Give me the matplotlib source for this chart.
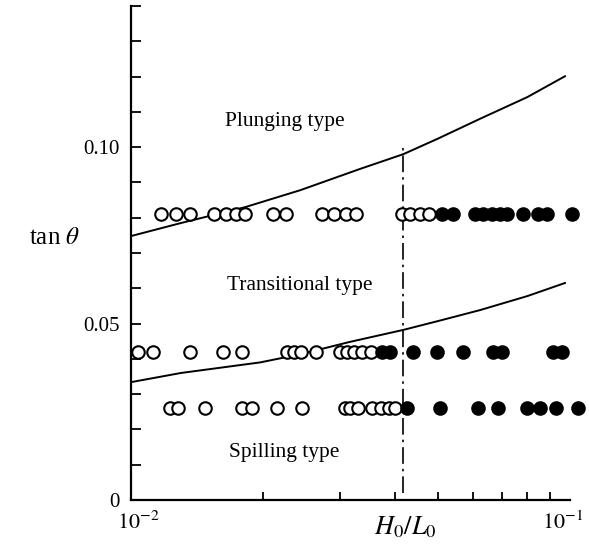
import matplotlib
matplotlib.use("Agg")
import matplotlib.pyplot as plt
from matplotlib.ticker import FixedLocator, NullFormatter, FixedFormatter, LogLocator
from matplotlib.transforms import ScaledTranslation

plt.rcParams['font.family'] = ['Liberation Serif', 'DejaVu Serif']
plt.rcParams['mathtext.fontset'] = 'stix'

# ---- data ----
row_top = 0.081
row_mid = 0.042
row_bot = 0.026

top_open = [0.0117, 0.01266, 0.01363, 0.01546, 0.01646, 0.01735, 0.01818, 0.02106,
            0.02255, 0.02724, 0.0290, 0.03088, 0.03254, 0.04143, 0.0432, 0.0455, 0.0477]
top_filled = [0.0511, 0.0541, 0.0608, 0.0634, 0.0664, 0.0693, 0.0719, 0.0781,
              0.0846, 0.0886, 0.1011]

mid_open = [0.01037, 0.01122, 0.01363, 0.0162, 0.0179, 0.02267, 0.02351, 0.02439,
            0.02639, 0.02993, 0.03105, 0.03221, 0.03359, 0.03522]
mid_filled = [0.0373, 0.0389, 0.0439, 0.0498, 0.0571, 0.0668, 0.0700, 0.0915, 0.0959]

bot_open = [0.01227, 0.0128, 0.01474, 0.0179, 0.01887, 0.0215, 0.02452, 0.03072,
            0.03154, 0.03289, 0.0354, 0.0371, 0.0387, 0.0399]
bot_filled = [0.0425, 0.0506, 0.0617, 0.0686, 0.0798, 0.0855, 0.0929, 0.1043]

upper_x = [0.0100, 0.0130, 0.0182, 0.0243, 0.0332, 0.0417, 0.0500, 0.0623, 0.0800, 0.0974]
upper_y = [0.0748, 0.0785, 0.0830, 0.0878, 0.0938, 0.0980, 0.1024, 0.1080, 0.1142, 0.1201]

lower_x = [0.0100, 0.0130, 0.0197, 0.0243, 0.0315, 0.0417, 0.0500, 0.0623, 0.0800, 0.0974]
lower_y = [0.0334, 0.0360, 0.0390, 0.0413, 0.0448, 0.0482, 0.0507, 0.0538, 0.0578, 0.0615]

vline_x = 0.0417
vline_y = [0.002, 0.100]

region_labels = ["Plunging type", "Transitional type", "Spilling type"]
region_x = [0.0224, 0.0242, 0.0223]
region_y = [0.1074, 0.0609, 0.0136]

# ---- figure ----
fig = plt.figure(figsize=(5.89, 5.46), dpi=100)
ax = fig.add_axes([131/589, 1-500/546, (570-131)/589, (500-6)/546])
ax.set_xscale('log')
ax.set_xlim(0.01, 0.1)
ax.set_ylim(0, 0.14)

ms = 9
mew = 1.5
for xs, yv in [(top_open, row_top), (mid_open, row_mid), (bot_open, row_bot)]:
    ax.plot(xs, [yv]*len(xs), 'o', ms=ms, mfc='white', mec='black', mew=mew,
            clip_on=False, zorder=3)
for xs, yv in [(top_filled, row_top), (mid_filled, row_mid), (bot_filled, row_bot)]:
    ax.plot(xs, [yv]*len(xs), 'o', ms=ms, mfc='black', mec='black', mew=mew,
            clip_on=False, zorder=3)

ax.plot(upper_x, upper_y, '-', color='black', lw=1.4, zorder=2)
ax.plot(lower_x, lower_y, '-', color='black', lw=1.4, zorder=2)
ax.plot([vline_x, vline_x], vline_y, color='black', lw=1.2,
        linestyle=(0, (10, 3, 1.5, 3)), zorder=2)

for t, x, y in zip(region_labels, region_x, region_y):
    ax.text(x, y, t, ha='center', va='center', fontsize=15.5)

for s in ['top', 'right']:
    ax.spines[s].set_visible(False)
for s in ['left', 'bottom']:
    ax.spines[s].set_linewidth(1.6)

ax.yaxis.set_major_locator(FixedLocator([0, 0.05, 0.10]))
ax.yaxis.set_major_formatter(FixedFormatter(['0', '0.05', '0.10']))
ax.yaxis.set_minor_locator(FixedLocator([i*0.01 for i in range(15)]))
ax.tick_params(axis='y', which='both', direction='in', length=7, width=1.3,
               labelsize=15, pad=8)

ax.xaxis.set_major_locator(FixedLocator([0.01, 0.1]))
ax.xaxis.set_major_formatter(FixedFormatter([r'$10^{-2}$', r'$10^{-1}$']))
ax.xaxis.set_minor_locator(LogLocator(base=10, subs=range(2, 10)))
ax.xaxis.set_minor_formatter(NullFormatter())
ax.tick_params(axis='x', which='minor', direction='in', length=6, width=1.3)
ax.tick_params(axis='x', which='major', direction='in', length=0, labelsize=16, pad=8)

fig.canvas.draw()
majors = ax.xaxis.get_major_ticks()
lab = majors[1].label1
lab.set_transform(lab.get_transform() + ScaledTranslation(-5/72, 0, fig.dpi_scale_trans))
lab0 = majors[0].label1
lab0.set_transform(lab0.get_transform() + ScaledTranslation(5/72, 0, fig.dpi_scale_trans))

fig.text(55/589, 1-238/546, r'tan $\theta$', ha='center', va='center', fontsize=18)
fig.text(405/589, 1-527/546, r'$H_0/L_0$', ha='center', va='center', fontsize=19)

fig.savefig('out.png', dpi=100)
